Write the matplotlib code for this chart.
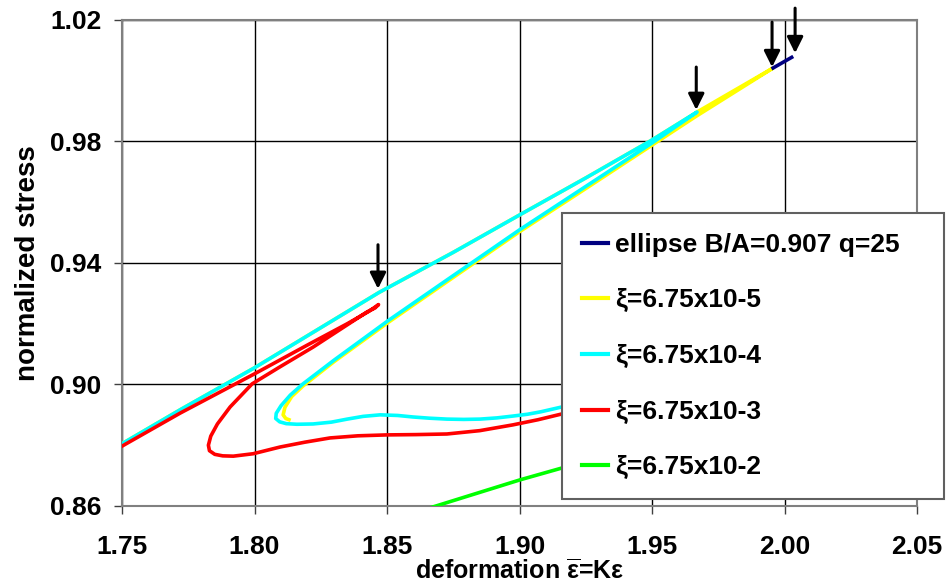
import matplotlib.pyplot as plt
from matplotlib.ticker import FormatStrFormatter

plt.rcParams.update({
    'font.family': 'Liberation Sans',
    'font.weight': 'bold',
    'mathtext.fontset': 'custom',
    'mathtext.rm': 'Liberation Sans:bold',
    'mathtext.it': 'Liberation Sans:bold',
    'mathtext.bf': 'Liberation Sans:bold',
})

x_ticks = [1.75, 1.80, 1.85, 1.90, 1.95, 2.00, 2.05]
y_ticks = [0.86, 0.90, 0.94, 0.98, 1.02]

# ellipse B/A=0.907 q=25
ell_x = [1.9957, 2.0027]
ell_y = [1.0042, 1.0077]

# xi = 6.75e-5 (yellow): up the upper branch, back down the lower one
xi5_x = [1.75, 1.772, 1.80, 1.847, 1.875, 1.90, 1.925, 1.95, 1.967, 1.9957,
         1.967, 1.95, 1.925, 1.90, 1.8726, 1.8504, 1.83, 1.8183, 1.8140,
         1.8115, 1.8108, 1.8118, 1.8130]
xi5_y = [0.8805, 0.8917, 0.9055, 0.9303, 0.9435, 0.9558, 0.9680, 0.9805, 0.9897, 1.0042,
         0.9885, 0.9788, 0.9645, 0.9503, 0.9338, 0.9204, 0.9075, 0.8995, 0.8960,
         0.8925, 0.8900, 0.8888, 0.8884]

# xi = 6.75e-4 (cyan)
xi4_x = [1.75, 1.772, 1.80, 1.847, 1.875, 1.90, 1.925, 1.95, 1.967,
         1.95, 1.925, 1.90, 1.8726, 1.8504, 1.83, 1.8183, 1.8135, 1.8100,
         1.8082, 1.8080, 1.8095, 1.8120, 1.8160, 1.8221, 1.8290, 1.8350,
         1.8410, 1.8474, 1.8540, 1.8598, 1.8660, 1.8726, 1.8790, 1.8851,
         1.8915, 1.8975, 1.9030, 1.9080, 1.9160, 1.9300]
xi4_y = [0.8805, 0.8917, 0.9055, 0.9303, 0.9435, 0.9558, 0.9680, 0.9805, 0.9897,
         0.9795, 0.9652, 0.9509, 0.9344, 0.9210, 0.9080, 0.9002, 0.8965, 0.8930,
         0.8905, 0.8888, 0.8877, 0.8871, 0.8869, 0.8870, 0.8876, 0.8886,
         0.8895, 0.8900, 0.8898, 0.8893, 0.8889, 0.8886, 0.8885, 0.8886,
         0.8890, 0.8896, 0.8902, 0.8910, 0.8926, 0.8960]

# xi = 6.75e-3 (red)
xi3_x = [1.75, 1.772, 1.80, 1.82, 1.835, 1.843, 1.8460, 1.8468, 1.8455,
         1.8425, 1.8221, 1.8096, 1.7991, 1.7908, 1.7860, 1.7835, 1.7826,
         1.7830, 1.7850, 1.7880, 1.7920, 1.7995, 1.8096, 1.8190, 1.8285,
         1.8390, 1.8500, 1.8610, 1.8726, 1.8850, 1.8975, 1.9070, 1.9160, 1.9300]
xi3_y = [0.8797, 0.8906, 0.9035, 0.9130, 0.9200, 0.9240, 0.9258, 0.9263, 0.9252,
         0.9239, 0.9123, 0.9058, 0.9002, 0.8926, 0.8870, 0.8830, 0.8800,
         0.8782, 0.8770, 0.8765, 0.8764, 0.8772, 0.8794, 0.8810, 0.8824,
         0.8831, 0.8834, 0.8835, 0.8837, 0.8848, 0.8867, 0.8884, 0.8903, 0.8940]

# xi = 6.75e-2 (green)
xi2_x = [1.862, 1.8674, 1.9002, 1.916, 1.93]
xi2_y = [0.8582, 0.8597, 0.8686, 0.8725, 0.8760]

# arrows marking the turning points
arrow_x = [1.8466, 1.9667, 1.9953, 2.0040]
arrow_tail = [0.9460, 1.0045, 1.0193, 1.0239]
arrow_head = [0.9315, 0.9904, 1.0045, 1.0091]

fig = plt.figure(figsize=(9.48, 5.88), dpi=100)
ax = fig.add_axes([0.1287, 0.1395, 0.8386, 0.8265])

lw = 2.6
ax.plot(ell_x, ell_y, color='#000080', lw=lw, zorder=6, label='ellipse B/A=0.907 q=25')
ax.plot(xi5_x, xi5_y, color='#FFFF00', lw=lw, zorder=3, label='ξ=6.75x10-5')
ax.plot(xi4_x, xi4_y, color='#00FFFF', lw=lw, zorder=4, label='ξ=6.75x10-4')
ax.plot(xi3_x, xi3_y, color='#FF0000', lw=lw, zorder=5, label='ξ=6.75x10-3')
ax.plot(xi2_x, xi2_y, color='#00FF00', lw=lw, zorder=5, label='ξ=6.75x10-2')

for x, yt, yh in zip(arrow_x, arrow_tail, arrow_head):
    ax.annotate('', xy=(x, yh), xytext=(x, yt), annotation_clip=False,
                arrowprops=dict(arrowstyle='-|>,head_length=0.6,head_width=0.3',
                                mutation_scale=16, lw=2.2, color='black',
                                shrinkA=0, shrinkB=0), zorder=7)

ax.set_xlim(1.75, 2.05)
ax.set_ylim(0.86, 1.02)
ax.set_xticks(x_ticks)
ax.set_yticks(y_ticks)
ax.xaxis.set_major_formatter(FormatStrFormatter('%.2f'))
ax.yaxis.set_major_formatter(FormatStrFormatter('%.2f'))
ax.grid(True, color='black', lw=1, zorder=1)
ax.set_axisbelow(True)
for s in ax.spines.values():
    s.set_color('#808080')
    s.set_linewidth(1.5)
ax.tick_params(axis='both', direction='out', length=6, width=1, color='#404040', labelsize=19)
ax.tick_params(axis='x', pad=15)
ax.tick_params(axis='y', pad=9)

ax.set_xlabel(r'deformation $\overline{\varepsilon}$=K$\varepsilon$', fontsize=18,
              fontweight='bold', labelpad=0)
ax.set_ylabel('normalized stress', fontsize=20, fontweight='bold', labelpad=6)

leg = ax.legend(loc='upper left', bbox_to_anchor=(0.5535, 0.6029, 0.4805, 0.0),
                mode='expand', borderaxespad=0, fontsize=19, handlelength=1.0,
                handletextpad=0.25, labelspacing=1.2, borderpad=0.75,
                fancybox=False, framealpha=1, edgecolor='#606060')
leg.get_frame().set_linewidth(1.5)
leg.set_zorder(10)
for h in leg.get_lines():
    h.set_linewidth(3)

fig.savefig('out.png', dpi=100)
